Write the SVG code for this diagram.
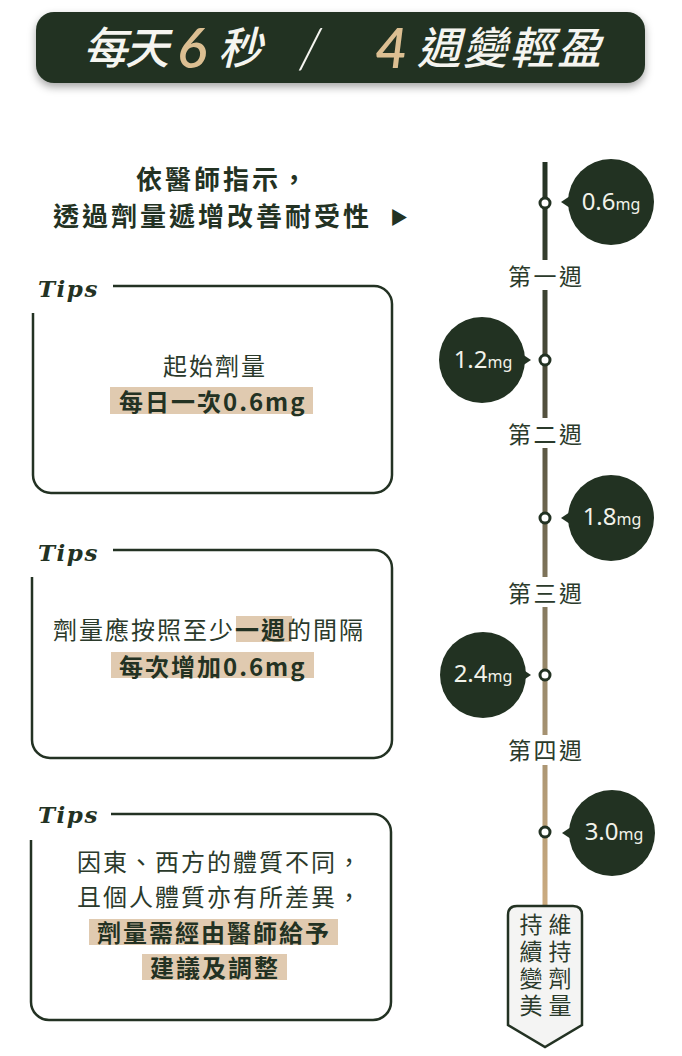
<svg xmlns="http://www.w3.org/2000/svg" width="682" height="1056" viewBox="0 0 682 1056">
<defs>
<filter id="sh" x="-10%" y="-30%" width="120%" height="170%">
<feDropShadow dx="0" dy="4" stdDeviation="4" flood-color="#000" flood-opacity="0.35"/>
</filter>
<linearGradient id="tl" gradientUnits="userSpaceOnUse" x1="0" y1="162" x2="0" y2="905">
<stop offset="0" stop-color="#233223"/>
<stop offset="0.35" stop-color="#55523f"/>
<stop offset="0.7" stop-color="#9a8a6c"/>
<stop offset="1" stop-color="#cbab80"/>
</linearGradient>
<style>
.cjk{font-family:"Noto Sans CJK TC","Noto Sans CJK SC",sans-serif;}
.body{font-size:24px;letter-spacing:2px;fill:#2b3a2b;}
.bold{font-weight:700;fill:#233223;}
.hl{fill:#e0cab0;}
.box{fill:none;stroke:#233223;stroke-width:2.5;}
.tips{font-family:"DejaVu Serif",serif;font-style:italic;font-weight:700;font-size:23px;letter-spacing:1.5px;fill:#233223;}
.bub{fill:#223222;}
.bt{font-family:"Noto Sans",sans-serif;fill:#f2f2ea;text-anchor:middle;}
.num{font-size:24px;}
.mg{font-size:16px;}
.dot{fill:#fff;stroke:#233223;stroke-width:3;}
.seg{stroke:url(#tl);stroke-width:5;fill:none;}
.wk{font-size:23px;letter-spacing:2.5px;fill:#2b3a2b;}
.vt{font-size:23px;letter-spacing:4px;fill:#2b3a2b;writing-mode:vertical-rl;}
</style>
</defs>
<rect width="682" height="1056" fill="#fff"/>

<g id="header">
<rect x="36" y="12" width="609" height="71" rx="18" fill="#223222" filter="url(#sh)"/>
<text class="cjk" font-size="44" font-style="italic" font-weight="500" fill="#f5f5f0" y="64"><tspan x="83">每</tspan><tspan x="125">天</tspan><tspan x="177" y="68" font-family="Lato,sans-serif" font-size="56" font-weight="600" fill="#dcbf92">6</tspan><tspan x="218" y="64">秒</tspan><tspan x="299" y="68" font-family="Lato,sans-serif" font-weight="300" font-size="56">/</tspan><tspan x="375" y="68" font-family="Lato,sans-serif" font-size="56" font-weight="600" fill="#dcbf92">4</tspan><tspan x="417" y="64">週</tspan><tspan x="463">變</tspan><tspan x="510">輕</tspan><tspan x="557">盈</tspan></text>
</g>

<g id="subtitle">
<text class="cjk bold" font-size="26" letter-spacing="3"><tspan x="136" y="189">依醫師指示，</tspan><tspan x="53" y="226">透過劑量遞增改善耐受性</tspan><tspan x="390" y="224" font-size="18" letter-spacing="0">▶</tspan></text>
</g>

<g id="tip1">
<text class="tips" x="38" y="297">Tips</text>
<path class="box" d="M113 286 H374 A18 18 0 0 1 392 304 V475 A18 18 0 0 1 374 493 H51 A18 18 0 0 1 33 475 V313"/>
<text class="cjk body" x="163" y="375">起始劑量</text>
<rect class="hl" x="110" y="387" width="203" height="27"/>
<text class="cjk body bold" x="119" y="411" letter-spacing="2.5">每日一次0.6mg</text>
</g>

<g id="tip2">
<text class="tips" x="38" y="561">Tips</text>
<path class="box" d="M113 550 H374 A18 18 0 0 1 392 568 V740 A18 18 0 0 1 374 758 H50 A18 18 0 0 1 32 740 V577"/>
<rect class="hl" x="236" y="616" width="56" height="26"/>
<text class="cjk body" x="53" y="639">劑量應按照至少<tspan class="bold">一週</tspan>的間隔</text>
<rect class="hl" x="111" y="652" width="203" height="26"/>
<text class="cjk body bold" x="119" y="676" letter-spacing="2.5">每次增加0.6mg</text>
</g>

<g id="tip3">
<text class="tips" x="38" y="823">Tips</text>
<path class="box" d="M111 814 H373 A18 18 0 0 1 391 832 V1002 A18 18 0 0 1 373 1020 H49 A18 18 0 0 1 31 1002 V840"/>
<text class="cjk body" x="77" y="871">因東、西方的體質不同，</text>
<text class="cjk body" x="77" y="906">且個人體質亦有所差異，</text>
<rect class="hl" x="89" y="919" width="249" height="26"/>
<text class="cjk body bold" x="97" y="942">劑量需經由醫師給予</text>
<rect class="hl" x="142" y="954" width="145" height="26"/>
<text class="cjk body bold" x="150" y="977">建議及調整</text>
</g>

<g id="connectors">
<path class="seg" d="M545 162 V260 M545 290 V418 M545 448 V577 M545 607 V735 M545 765 V906"/>
</g>

<g id="weeks">
<text class="cjk wk" x="508" y="285">第一週</text>
<text class="cjk wk" x="508" y="443">第二週</text>
<text class="cjk wk" x="508" y="602">第三週</text>
<text class="cjk wk" x="508" y="759">第四週</text>
</g>

<g id="step1">
<circle class="bub" cx="611" cy="202" r="43"/>
<polygon class="bub" points="561,202 570,196 570,208"/>
<circle class="dot" cx="545" cy="203" r="5"/>
<text class="bt" x="611" y="210"><tspan class="num">0.6</tspan><tspan class="mg">mg</tspan></text>
</g>
<g id="step2">
<circle class="bub" cx="482" cy="360" r="43"/>
<polygon class="bub" points="531,360 522,354 522,366"/>
<circle class="dot" cx="545" cy="360" r="5"/>
<text class="bt" x="483" y="368"><tspan class="num">1.2</tspan><tspan class="mg">mg</tspan></text>
</g>
<g id="step3">
<circle class="bub" cx="611" cy="518" r="43"/>
<polygon class="bub" points="561,518 570,512 570,524"/>
<circle class="dot" cx="545" cy="518" r="5"/>
<text class="bt" x="612" y="525"><tspan class="num">1.8</tspan><tspan class="mg">mg</tspan></text>
</g>
<g id="step4">
<circle class="bub" cx="483" cy="675" r="43"/>
<polygon class="bub" points="531,675 522,669 522,681"/>
<circle class="dot" cx="545" cy="675" r="5"/>
<text class="bt" x="483" y="682"><tspan class="num">2.4</tspan><tspan class="mg">mg</tspan></text>
</g>
<g id="step5">
<circle class="bub" cx="612" cy="833" r="43"/>
<polygon class="bub" points="562,833 571,827 571,839"/>
<circle class="dot" cx="545" cy="832" r="5"/>
<text class="bt" x="614" y="840"><tspan class="num">3.0</tspan><tspan class="mg">mg</tspan></text>
</g>

<g id="tag">
<path d="M508 915 Q508 906 517 906 H573 Q582 906 582 915 V1025 L545 1047 L508 1025 Z" fill="#f4f4f3" stroke="#233223" stroke-width="2.5"/>
<text class="cjk vt" x="560" y="913">維持劑量</text>
<text class="cjk vt" x="531" y="913">持續變美</text>
</g>
</svg>
